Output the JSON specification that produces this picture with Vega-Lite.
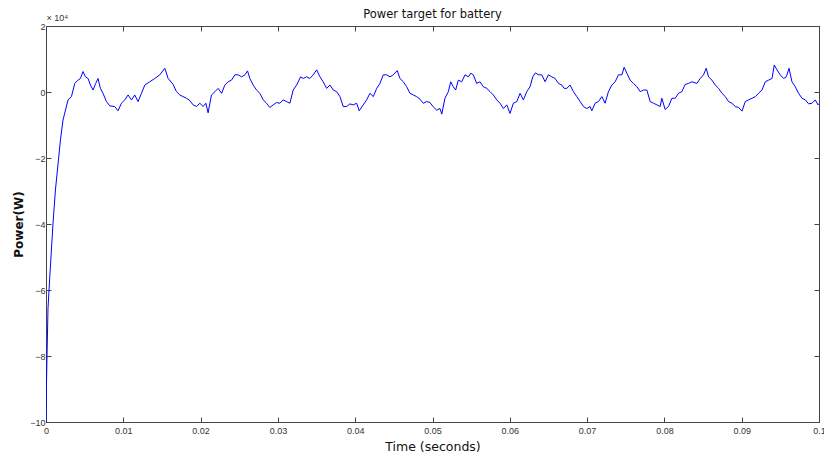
{
  "$schema": "https://vega.github.io/schema/vega-lite/v6.json",
  "autosize": {"type": "none"},
  "width": 773,
  "height": 396,
  "padding": {"left": 46, "top": 26, "right": 5, "bottom": 35},
  "background": "white",
  "config": {
    "view": {"stroke": null},
    "axis": {
      "grid": false,
      "domainColor": "#444444",
      "tickColor": "#444444",
      "tickSize": -5,
      "labelFont": "Liberation Sans",
      "labelFontSize": 9,
      "labelColor": "#333333",
      "titleFont": "DejaVu Sans",
      "titleColor": "#111111",
      "titleFontWeight": "normal"
    }
  },
  "title": {"text": "Power target for battery", "font": "DejaVu Sans", "fontSize": 11.5, "fontWeight": "normal", "color": "#111111", "offset": 9, "dy": 16, "anchor": "middle"},
  "data": {"values": [
    {"t": 0, "p": -100000}, {"t": 0.00005, "p": -90000}, {"t": 0.00013, "p": -80000}, {"t": 0.00026, "p": -65500},
    {"t": 0.00048, "p": -56400}, {"t": 0.00091, "p": -39700}, {"t": 0.00122, "p": -29700}, {"t": 0.00187, "p": -14500},
    {"t": 0.0022, "p": -8500}, {"t": 0.00285, "p": -2400}, {"t": 0.00329, "p": -1400}, {"t": 0.00372, "p": 2600},
    {"t": 0.00414, "p": 3600}, {"t": 0.00445, "p": 4100}, {"t": 0.00479, "p": 6200}, {"t": 0.0051, "p": 4600},
    {"t": 0.00544, "p": 4100}, {"t": 0.00575, "p": 2100}, {"t": 0.00609, "p": 600}, {"t": 0.00643, "p": 2600},
    {"t": 0.00673, "p": 4100}, {"t": 0.00704, "p": 1100}, {"t": 0.00738, "p": -400}, {"t": 0.00782, "p": -2900},
    {"t": 0.00825, "p": -4200}, {"t": 0.00889, "p": -4400}, {"t": 0.00932, "p": -5700}, {"t": 0.00976, "p": -3400},
    {"t": 0.01019, "p": -2400}, {"t": 0.01062, "p": -900}, {"t": 0.01106, "p": -2400}, {"t": 0.01148, "p": -900},
    {"t": 0.01191, "p": -2900}, {"t": 0.01235, "p": -400}, {"t": 0.01278, "p": 2100}, {"t": 0.01343, "p": 3100},
    {"t": 0.01407, "p": 4100}, {"t": 0.01472, "p": 5200}, {"t": 0.01537, "p": 7200}, {"t": 0.0158, "p": 4100},
    {"t": 0.01644, "p": 2300}, {"t": 0.01688, "p": 100}, {"t": 0.01731, "p": -900}, {"t": 0.01774, "p": -1400},
    {"t": 0.01818, "p": -1900}, {"t": 0.01861, "p": -2600}, {"t": 0.01903, "p": -3900}, {"t": 0.01947, "p": -4400},
    {"t": 0.0199, "p": -3400}, {"t": 0.02033, "p": -4400}, {"t": 0.02068, "p": -3400}, {"t": 0.02097, "p": -6300},
    {"t": 0.02141, "p": -900}, {"t": 0.02185, "p": 100}, {"t": 0.02227, "p": 1100}, {"t": 0.02271, "p": -400},
    {"t": 0.02314, "p": 2100}, {"t": 0.02356, "p": 3100}, {"t": 0.024, "p": 3600}, {"t": 0.02443, "p": 5200},
    {"t": 0.02486, "p": 5200}, {"t": 0.0253, "p": 4600}, {"t": 0.02573, "p": 5200}, {"t": 0.02607, "p": 6400},
    {"t": 0.02637, "p": 4100}, {"t": 0.0268, "p": 2100}, {"t": 0.02724, "p": 600}, {"t": 0.02767, "p": -400},
    {"t": 0.0281, "p": -2400}, {"t": 0.02853, "p": -3400}, {"t": 0.02896, "p": -4700}, {"t": 0.02939, "p": -3900},
    {"t": 0.02983, "p": -3200}, {"t": 0.03026, "p": -3400}, {"t": 0.03068, "p": -2400}, {"t": 0.03112, "p": -2900},
    {"t": 0.03155, "p": -3400}, {"t": 0.03198, "p": 600}, {"t": 0.03242, "p": 2100}, {"t": 0.03294, "p": 4600},
    {"t": 0.03327, "p": 4100}, {"t": 0.03371, "p": 4600}, {"t": 0.03414, "p": 4100}, {"t": 0.03457, "p": 5200},
    {"t": 0.03501, "p": 6700}, {"t": 0.03544, "p": 4600}, {"t": 0.03586, "p": 3100}, {"t": 0.0363, "p": 1100},
    {"t": 0.03673, "p": 2100}, {"t": 0.03716, "p": 600}, {"t": 0.0376, "p": 100}, {"t": 0.03803, "p": -1400},
    {"t": 0.03845, "p": -4400}, {"t": 0.03889, "p": -4400}, {"t": 0.03932, "p": -3600}, {"t": 0.03975, "p": -3900},
    {"t": 0.04019, "p": -3400}, {"t": 0.04052, "p": -5700}, {"t": 0.04104, "p": -3900}, {"t": 0.04148, "p": -2400},
    {"t": 0.04191, "p": -400}, {"t": 0.04234, "p": -1400}, {"t": 0.04278, "p": 1100}, {"t": 0.0432, "p": 2600},
    {"t": 0.04363, "p": 5200}, {"t": 0.04407, "p": 5200}, {"t": 0.0445, "p": 4600}, {"t": 0.04493, "p": 5200},
    {"t": 0.04544, "p": 6500}, {"t": 0.04579, "p": 4100}, {"t": 0.04622, "p": 3100}, {"t": 0.04666, "p": 1600},
    {"t": 0.04709, "p": -400}, {"t": 0.04751, "p": -900}, {"t": 0.04795, "p": -1400}, {"t": 0.04838, "p": -2200},
    {"t": 0.04881, "p": -3400}, {"t": 0.04925, "p": -2900}, {"t": 0.04968, "p": -3200}, {"t": 0.0501, "p": -4500},
    {"t": 0.05054, "p": -5500}, {"t": 0.05097, "p": -5000}, {"t": 0.0512, "p": -6700}, {"t": 0.05161, "p": -1900},
    {"t": 0.05205, "p": 100}, {"t": 0.05236, "p": 3100}, {"t": 0.05269, "p": 1600}, {"t": 0.053, "p": 600},
    {"t": 0.05334, "p": 3600}, {"t": 0.05378, "p": 3100}, {"t": 0.05421, "p": 5200}, {"t": 0.05464, "p": 4600},
    {"t": 0.05495, "p": 5700}, {"t": 0.05528, "p": 5200}, {"t": 0.05572, "p": 2600}, {"t": 0.05615, "p": 3100},
    {"t": 0.05658, "p": 1600}, {"t": 0.05702, "p": 1100}, {"t": 0.05745, "p": 100}, {"t": 0.05787, "p": -900},
    {"t": 0.05831, "p": -2400}, {"t": 0.05874, "p": -3400}, {"t": 0.05917, "p": -5000}, {"t": 0.05961, "p": -3900},
    {"t": 0.06003, "p": -6500}, {"t": 0.06046, "p": -3400}, {"t": 0.0609, "p": -2900}, {"t": 0.06133, "p": -400},
    {"t": 0.06176, "p": -2400}, {"t": 0.0622, "p": 100}, {"t": 0.06262, "p": 1600}, {"t": 0.06297, "p": 4600},
    {"t": 0.06331, "p": 5800}, {"t": 0.0637, "p": 5200}, {"t": 0.06414, "p": 5200}, {"t": 0.06457, "p": 3100},
    {"t": 0.06499, "p": 5200}, {"t": 0.06543, "p": 4600}, {"t": 0.06586, "p": 4100}, {"t": 0.06629, "p": 2600},
    {"t": 0.06673, "p": 2100}, {"t": 0.06703, "p": 1100}, {"t": 0.06737, "p": 1100}, {"t": 0.0678, "p": 2100},
    {"t": 0.06823, "p": 100}, {"t": 0.06867, "p": -1400}, {"t": 0.0691, "p": -2900}, {"t": 0.06952, "p": -4400},
    {"t": 0.06996, "p": -5000}, {"t": 0.07039, "p": -4400}, {"t": 0.07061, "p": -5700}, {"t": 0.07104, "p": -3400},
    {"t": 0.07147, "p": -2900}, {"t": 0.07191, "p": -1400}, {"t": 0.07233, "p": -3400}, {"t": 0.07276, "p": 100},
    {"t": 0.0732, "p": 2100}, {"t": 0.07363, "p": 3100}, {"t": 0.07406, "p": 5200}, {"t": 0.0745, "p": 5200},
    {"t": 0.07479, "p": 7500}, {"t": 0.07514, "p": 5700}, {"t": 0.07557, "p": 3600}, {"t": 0.076, "p": 2600},
    {"t": 0.07644, "p": 1600}, {"t": 0.07687, "p": 100}, {"t": 0.0773, "p": 600}, {"t": 0.07773, "p": 600},
    {"t": 0.07816, "p": -2900}, {"t": 0.07859, "p": -3400}, {"t": 0.07903, "p": -3900}, {"t": 0.07945, "p": -4400},
    {"t": 0.07967, "p": -1900}, {"t": 0.0801, "p": -5300}, {"t": 0.08053, "p": -4400}, {"t": 0.08097, "p": -1900},
    {"t": 0.0814, "p": -1900}, {"t": 0.08182, "p": -400}, {"t": 0.08226, "p": 100}, {"t": 0.08269, "p": 2300},
    {"t": 0.08312, "p": 2600}, {"t": 0.08356, "p": 3100}, {"t": 0.0842, "p": 2600}, {"t": 0.08463, "p": 4100},
    {"t": 0.08506, "p": 5200}, {"t": 0.08541, "p": 7200}, {"t": 0.08571, "p": 4600}, {"t": 0.08615, "p": 3600},
    {"t": 0.08658, "p": 2100}, {"t": 0.08701, "p": 1100}, {"t": 0.08745, "p": -400}, {"t": 0.08788, "p": -1400},
    {"t": 0.0883, "p": -2900}, {"t": 0.08874, "p": -3400}, {"t": 0.08917, "p": -4400}, {"t": 0.0896, "p": -4700},
    {"t": 0.09004, "p": -5800}, {"t": 0.09046, "p": -2900}, {"t": 0.09089, "p": -2400}, {"t": 0.09133, "p": -1900},
    {"t": 0.09176, "p": -1400}, {"t": 0.09218, "p": -400}, {"t": 0.09262, "p": 600}, {"t": 0.09305, "p": 3100},
    {"t": 0.09348, "p": 3600}, {"t": 0.09392, "p": 4100}, {"t": 0.09421, "p": 8200}, {"t": 0.09456, "p": 6700},
    {"t": 0.09499, "p": 5200}, {"t": 0.09542, "p": 4100}, {"t": 0.09577, "p": 4600}, {"t": 0.09612, "p": 7200},
    {"t": 0.0965, "p": 3100}, {"t": 0.09693, "p": 1600}, {"t": 0.09736, "p": -400}, {"t": 0.0978, "p": -1900},
    {"t": 0.09823, "p": -2400}, {"t": 0.09866, "p": -3600}, {"t": 0.0991, "p": -3400}, {"t": 0.09952, "p": -2400},
    {"t": 0.09987, "p": -3900}, {"t": 0.1, "p": -3500}
  ]},
  "resolve": {"axis": {"x": "independent", "y": "independent"}},
  "layer": [
    {
      "mark": {"type": "line", "color": "#0000ff", "strokeWidth": 1, "clip": true},
      "encoding": {
        "x": {"field": "t", "type": "quantitative",
          "scale": {"domain": [0, 0.1], "nice": false, "zero": false},
          "axis": {"orient": "bottom", "values": [0, 0.01, 0.02, 0.03, 0.04, 0.05, 0.06, 0.07, 0.08, 0.09, 0.1],
            "format": ".2~f", "labelPadding": 9, "labelFlush": false, "labelOverlap": false,
            "title": "Time (seconds)", "titleFontSize": 12.5, "titlePadding": 5}},
        "y": {"field": "p", "type": "quantitative",
          "scale": {"domain": [-100000, 20000], "nice": false, "zero": false},
          "axis": {"orient": "left", "values": [-100000, -80000, -60000, -40000, -20000, 0, 20000],
            "labelExpr": "format(datum.value / 10000, 'd')", "labelPadding": 6, "labelFlush": false,
            "title": "Power(W)", "titleFont": "DejaVu Sans", "titleFontWeight": "bold", "titleFontSize": 12, "titlePadding": 4}}
      }
    },
    {
      "mark": {"type": "line", "opacity": 0},
      "encoding": {
        "x": {"field": "t", "type": "quantitative",
          "axis": {"orient": "top", "values": [0, 0.01, 0.02, 0.03, 0.04, 0.05, 0.06, 0.07, 0.08, 0.09, 0.1],
            "labels": false, "title": "× 10⁴", "titleFont": "Liberation Sans", "titleFontSize": 9,
            "titleX": 0, "titleY": -6, "titleAlign": "left", "titleBaseline": "alphabetic", "titleColor": "#333333"}},
        "y": {"field": "p", "type": "quantitative",
          "axis": {"orient": "right", "values": [-100000, -80000, -60000, -40000, -20000, 0, 20000],
            "labels": false, "title": null}}
      }
    }
  ]
}
